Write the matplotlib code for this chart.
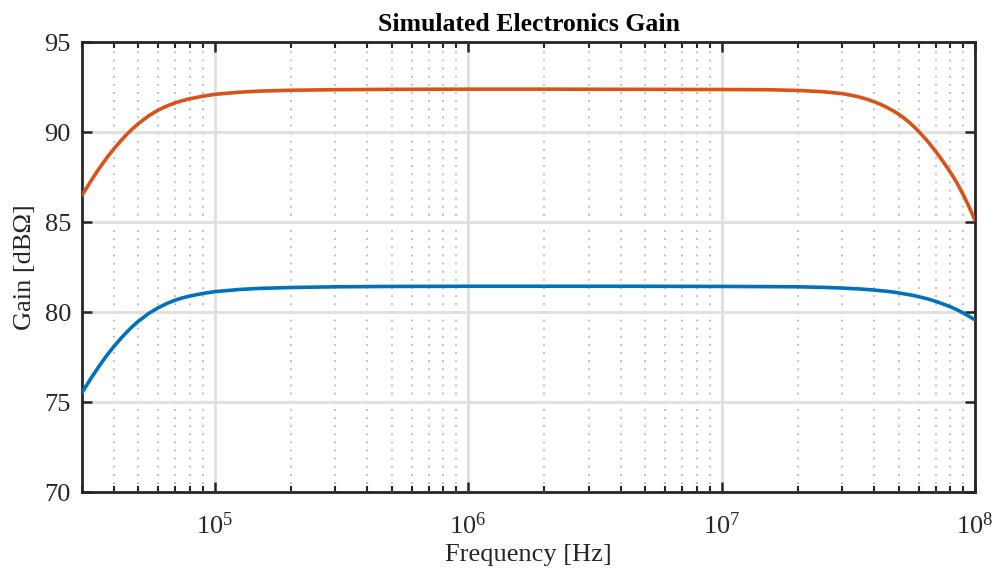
import math
import matplotlib
matplotlib.use("Agg")
import matplotlib.pyplot as plt
from matplotlib.ticker import FixedLocator, FuncFormatter, LogLocator, NullFormatter

# ---- data ----
freq_hz = [3.0e4, 3.25e4, 3.5e4, 3.75e4, 4.0e4, 4.25e4, 4.5e4, 4.75e4, 5.0e4, 5.5e4,
           6.0e4, 6.5e4, 7.0e4, 7.5e4, 8.0e4, 9.0e4, 1.0e5, 1.25e5, 1.5e5, 2.0e5,
           3.0e5, 5.0e5, 1.0e6, 2.0e6, 5.0e6, 1.0e7, 1.5e7, 2.0e7, 2.5e7, 3.0e7,
           3.25e7, 3.5e7, 3.75e7, 4.0e7, 4.25e7, 4.5e7, 4.75e7, 5.0e7, 5.25e7, 5.5e7,
           5.75e7, 6.0e7, 6.5e7, 7.0e7, 7.5e7, 8.0e7, 8.5e7, 9.0e7, 9.5e7, 1.0e8]

gain_orange = [86.48, 87.27, 87.96, 88.55, 89.05, 89.48, 89.86, 90.18, 90.46, 90.90,
               91.22, 91.45, 91.62, 91.75, 91.85, 91.99, 92.09, 92.21, 92.27, 92.32,
               92.35, 92.37, 92.38, 92.38, 92.37, 92.36, 92.35, 92.31, 92.24, 92.13,
               92.04, 91.94, 91.82, 91.68, 91.53, 91.36, 91.18, 90.99, 90.77, 90.54,
               90.29, 90.03, 89.49, 88.92, 88.34, 87.76, 87.15, 86.50, 85.81, 85.10]

gain_blue = [75.52, 76.30, 76.98, 77.57, 78.07, 78.50, 78.88, 79.20, 79.48, 79.92,
             80.24, 80.48, 80.66, 80.79, 80.89, 81.03, 81.13, 81.25, 81.31, 81.36,
             81.40, 81.42, 81.43, 81.43, 81.43, 81.42, 81.41, 81.40, 81.37, 81.33,
             81.30, 81.28, 81.25, 81.22, 81.18, 81.15, 81.11, 81.06, 81.01, 80.96,
             80.91, 80.85, 80.73, 80.59, 80.44, 80.29, 80.12, 79.94, 79.75, 79.56]

y_ticks = [70, 75, 80, 85, 90, 95]
x_major = [1e5, 1e6, 1e7, 1e8]
x_limits = (3e4, 1e8)
y_limits = (70, 95)

title_text = "Simulated Electronics Gain"
x_label = "Frequency [Hz]"
y_label = "Gain [dBΩ]"

# ---- style ----
plt.rcParams['font.family'] = ['Liberation Serif', 'DejaVu Serif']
plt.rcParams['mathtext.fontset'] = 'custom'
plt.rcParams['mathtext.rm'] = 'Liberation Serif'
plt.rcParams['mathtext.it'] = 'Liberation Serif'
plt.rcParams['mathtext.default'] = 'regular'

dark = '#262626'
fig = plt.figure(figsize=(9.94, 5.74), dpi=100)
ax = fig.add_axes([82/994, 82/574, (975-82)/994, (492-42)/574])

ax.plot(freq_hz, gain_orange, color='#D95319', lw=2.6, solid_capstyle='round',
        solid_joinstyle='round', zorder=3)
ax.plot(freq_hz, gain_blue, color='#0072BD', lw=2.6, solid_capstyle='round',
        solid_joinstyle='round', zorder=3)

ax.set_xscale('log')
ax.set_xlim(*x_limits)
ax.set_ylim(*y_limits)
ax.xaxis.set_major_locator(FixedLocator(x_major))
ax.xaxis.set_minor_locator(LogLocator(base=10, subs=range(2, 10), numticks=20))
ax.xaxis.set_minor_formatter(NullFormatter())

def fmt(v, pos):
    e = int(round(math.log10(v)))
    return r'$10^{%d}$' % e
ax.xaxis.set_major_formatter(FuncFormatter(fmt))
ax.set_yticks(y_ticks)

ax.set_axisbelow(True)
ax.grid(True, which='major', axis='both', color='#dfdfdf', lw=2.0, ls='-')
ax.grid(True, which='minor', axis='x', color='#b8b8b8', lw=1.3, dashes=(1, 3.5))

for s in ax.spines.values():
    s.set_color(dark)
    s.set_linewidth(2.0)

ax.tick_params(which='both', direction='in', top=True, right=True, colors=dark,
               labelcolor=dark, labelsize=19)
ax.tick_params(which='major', length=7.5, width=1.8)
ax.tick_params(which='minor', length=4, width=1.5)
ax.tick_params(axis='x', which='major', pad=15)
ax.tick_params(axis='y', which='major', pad=8)

ax.set_title(title_text, fontsize=18.5, fontweight='bold', color='black', pad=8)
ax.set_xlabel(x_label, fontsize=19, color=dark, labelpad=3)
ax.set_ylabel(y_label, fontsize=19, color=dark, labelpad=6)

fig.savefig('out.png', dpi=100)
